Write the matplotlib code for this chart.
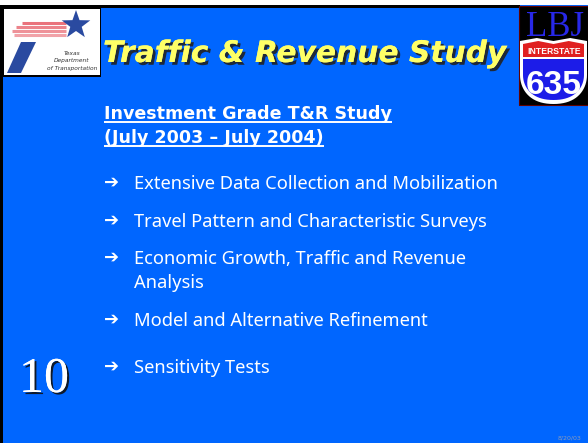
import numpy as np
import matplotlib.pyplot as plt
from matplotlib.patches import Rectangle, Polygon
import matplotlib.patheffects as pe

# slide content
title = 'Traffic & Revenue Study'
subtitle = ['Investment Grade T&R Study', '(July 2003 \u2013 July 2004)']
bullets = ['Extensive Data Collection and Mobilization',
           'Travel Pattern and Characteristic Surveys',
           'Economic Growth, Traffic and Revenue\nAnalysis',
           'Model and Alternative Refinement',
           'Sensitivity Tests']
bullet_y = [189, 227, 264, 326, 373]
slide_no = '10'
date_txt = '8/20/03'
logo_lines = ['Texas', 'Department', 'of Transportation']

BLUE = '#0066ff'

fig = plt.figure(figsize=(5.88, 4.43), dpi=100)
fig.patch.set_facecolor(BLUE)
ax = fig.add_axes([0, 0, 1, 1])
ax.set_xlim(0, 588)
ax.set_ylim(443, 0)
ax.axis('off')

# frame: white strip, black rule, black left edge
ax.add_patch(Rectangle((0, 0), 588, 5, fc='white', ec='none', zorder=1))
ax.add_patch(Rectangle((0, 5), 520, 3, fc='black', ec='none', zorder=1))
ax.add_patch(Rectangle((0, 5), 3, 438, fc='black', ec='none', zorder=1))

# TxDOT logo
ax.add_patch(Rectangle((2, 7), 99, 70, fc='black', ec='none', zorder=2))
ax.add_patch(Rectangle((4, 9), 96, 66, fc='white', ec='none', zorder=3))
for i, (xs, yy) in enumerate([(22, 23), (16, 27), (12, 31), (14, 35)]):
    ax.plot([xs, 66], [yy, yy], color='#e8646e', lw=2.2, alpha=0.9 - 0.1 * i,
            solid_capstyle='butt', zorder=4)
ax.add_patch(Polygon([[21, 42], [36, 42], [21, 73], [7, 73]], closed=True,
                     fc='#2a4aa0', ec='none', zorder=4))
ang = np.pi / 2 + np.arange(10) * np.pi / 5
rad = np.where(np.arange(10) % 2 == 0, 15, 6)
ax.add_patch(Polygon(np.c_[76 + rad * np.cos(ang), 25 - rad * np.sin(ang)],
                     closed=True, fc='#2a4aa0', ec='none', zorder=5))
for t, yy in zip(logo_lines, [55, 62, 70]):
    ax.text(72, yy, t, fontsize=4.2, style='italic', color='#333333',
            ha='center', va='baseline', zorder=6)

# LBJ 635 logo
ax.add_patch(Rectangle((519, 6), 69, 99, fc='black', ec='#600000', lw=0.8, zorder=2))
ax.text(555, 36, 'LBJ', fontsize=25, family='Liberation Serif', color='#2828e8',
        ha='center', va='baseline', zorder=5)


def shield(x0, x1, ytop, ybot, ymid):
    xc = (x0 + x1) / 2
    top = [[x0, ytop + 2], [(x0 + xc) / 2, ytop - 1], [xc, ytop + 2],
           [(xc + x1) / 2, ytop - 1], [x1, ytop + 2]]
    t = np.linspace(0, 1, 20)
    right = np.c_[x1 - (x1 - xc) * t ** 2, ymid + (ybot - ymid) * np.sin(t * np.pi / 2)]
    left = np.c_[xc - (xc - x0) * (1 - (1 - t) ** 2), ybot - (ybot - ymid) * (1 - np.cos(t * np.pi / 2))]
    return np.vstack([top, [[x1, ymid]], right, left, [[x0, ymid]]])


ax.add_patch(Polygon(shield(520, 587, 39, 104, 75), closed=True, fc='white', ec='none', zorder=3))
inner = Polygon(shield(523, 584, 42, 100, 75), closed=True, fc='none', ec='none', zorder=3)
ax.add_patch(inner)
r = Rectangle((515, 35), 80, 22, fc='#e02020', ec='none', zorder=4)
b = Rectangle((515, 59), 80, 50, fc='#1c1ce8', ec='none', zorder=4)
ax.add_patch(r)
ax.add_patch(b)
r.set_clip_path(inner)
b.set_clip_path(inner)
ax.text(554, 54, 'INTERSTATE', fontsize=6.2, family='Liberation Sans', weight='bold',
        color='white', ha='center', va='baseline', zorder=6)
ax.text(554, 94, '635', fontsize=24, family='Liberation Sans', weight='bold',
        color='white', ha='center', va='baseline', zorder=6)

# title with shadow
ax.text(103, 62, title, fontsize=21.4, weight='bold', style='italic', family='DejaVu Sans',
        color='#ffff66', ha='left', va='baseline', zorder=6,
        path_effects=[pe.withSimplePatchShadow(offset=(2, -2), shadow_rgbFace='#222222', alpha=0.9),
                      pe.Normal()])

# subtitle, bold and underlined
for s, yb, yu in zip(subtitle, [119, 143], [122, 146]):
    t = ax.text(104, yb, s, fontsize=12.6, weight='bold', color='white',
                ha='left', va='baseline', zorder=6)
    fig.canvas.draw()
    ext = t.get_window_extent()
    x1 = ax.transData.inverted().transform((ext.x1, 0))[0]
    ax.plot([104, x1], [yu, yu], color='white', lw=1.4, solid_capstyle='butt', zorder=6)

# bullets (wrapped items get one text per line)
for s, yb in zip(bullets, bullet_y):
    ax.text(104, yb - 1, '\u2794', fontsize=13, weight='bold', color='white',
            ha='left', va='baseline', zorder=6)
    for k, line in enumerate(s.split('\n')):
        ax.text(134, yb + 24 * k, line, fontsize=13.2, family='Noto Sans', color='white',
                ha='left', va='baseline', zorder=6)

# slide number
ax.text(19, 392, slide_no, fontsize=36, family='Liberation Serif', color='white',
        ha='left', va='baseline', zorder=6,
        path_effects=[pe.withSimplePatchShadow(offset=(1.5, -1.5), shadow_rgbFace='#111111', alpha=0.9),
                      pe.Normal()])

ax.text(582, 439, date_txt, fontsize=4.5, color='#8899bb', ha='right', va='baseline', zorder=6)

fig.savefig('out.png', dpi=100, facecolor=BLUE)
